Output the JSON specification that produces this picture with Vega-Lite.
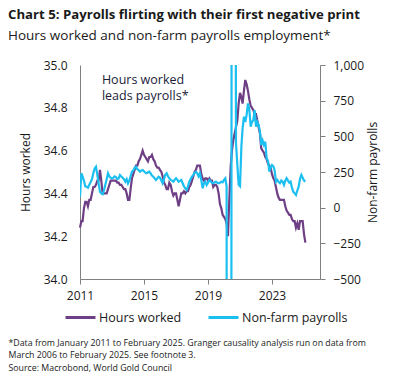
{
"$schema": "https://vega.github.io/schema/vega-lite/v6.json",
"width": 240, "height": 214,
"autosize": {"type": "none"},
"padding": {"left": 80, "top": 65, "right": 76, "bottom": 111},
"config": {"font": "Open Sans", "view": {"stroke": null},
  "axis": {"grid": false, "domainColor": "#808080", "tickColor": "#808080", "labelColor": "#1a1a1a", "titleColor": "#1a1a1a", "labelFontSize": 12, "titleFontSize": 12, "titleFontWeight": "normal"},
  "legend": {"labelColor": "#1a1a1a"}},
"title": {"text": "Chart 5: Payrolls flirting with their first negative print", "subtitle": "Hours worked and non-farm payrolls employment*", "anchor": "start", "frame": "group", "dx": -72, "fontSize": 13.2, "subtitleFontSize": 13.5, "fontWeight": "bold", "color": "#1a1a1a", "subtitleColor": "#1a1a1a", "subtitlePadding": 6, "offset": 16},
"data": {"values": [
{"d":"2011-01-01","h":34.24,"p":77},{"d":"2011-02-01","h":34.27,"p":241},{"d":"2011-03-01","h":34.27,"p":220},{"d":"2011-04-01","h":34.33,"p":190},{"d":"2011-05-01","h":34.36,"p":150},{"d":"2011-06-01","h":34.36,"p":147},{"d":"2011-07-01","h":34.34,"p":140},{"d":"2011-08-01","h":34.37,"p":160},{"d":"2011-09-01","h":34.37,"p":180},{"d":"2011-10-01","h":34.40,"p":200},{"d":"2011-11-01","h":34.43,"p":241},{"d":"2011-12-01","h":34.43,"p":275},
{"d":"2012-01-01","h":34.44,"p":287},{"d":"2012-02-01","h":34.46,"p":230},{"d":"2012-03-01","h":34.46,"p":170},{"d":"2012-04-01","h":34.51,"p":112},{"d":"2012-05-01","h":34.46,"p":100},{"d":"2012-06-01","h":34.40,"p":95},{"d":"2012-07-01","h":34.40,"p":120},{"d":"2012-08-01","h":34.40,"p":160},{"d":"2012-09-01","h":34.40,"p":200},{"d":"2012-10-01","h":34.42,"p":241},{"d":"2012-11-01","h":34.44,"p":220},{"d":"2012-12-01","h":34.46,"p":210},
{"d":"2013-01-01","h":34.46,"p":205},{"d":"2013-02-01","h":34.46,"p":210},{"d":"2013-03-01","h":34.46,"p":220},{"d":"2013-04-01","h":34.46,"p":215},{"d":"2013-05-01","h":34.45,"p":200},{"d":"2013-06-01","h":34.45,"p":205},{"d":"2013-07-01","h":34.44,"p":229},{"d":"2013-08-01","h":34.44,"p":218},{"d":"2013-09-01","h":34.43,"p":210},{"d":"2013-10-01","h":34.42,"p":200},{"d":"2013-11-01","h":34.42,"p":182},{"d":"2013-12-01","h":34.40,"p":200},
{"d":"2014-01-01","h":34.37,"p":170},{"d":"2014-02-01","h":34.37,"p":190},{"d":"2014-03-01","h":34.42,"p":220},{"d":"2014-04-01","h":34.47,"p":252},{"d":"2014-05-01","h":34.49,"p":260},{"d":"2014-06-01","h":34.51,"p":280},{"d":"2014-07-01","h":34.53,"p":287},{"d":"2014-08-01","h":34.53,"p":270},{"d":"2014-09-01","h":34.55,"p":264},{"d":"2014-10-01","h":34.56,"p":252},{"d":"2014-11-01","h":34.58,"p":260},{"d":"2014-12-01","h":34.60,"p":264},
{"d":"2015-01-01","h":34.58,"p":255},{"d":"2015-02-01","h":34.57,"p":245},{"d":"2015-03-01","h":34.56,"p":241},{"d":"2015-04-01","h":34.55,"p":248},{"d":"2015-05-01","h":34.57,"p":252},{"d":"2015-06-01","h":34.57,"p":240},{"d":"2015-07-01","h":34.58,"p":225},{"d":"2015-08-01","h":34.56,"p":217},{"d":"2015-09-01","h":34.55,"p":205},{"d":"2015-10-01","h":34.53,"p":194},{"d":"2015-11-01","h":34.52,"p":205},{"d":"2015-12-01","h":34.52,"p":217},
{"d":"2016-01-01","h":34.51,"p":210},{"d":"2016-02-01","h":34.50,"p":190},{"d":"2016-03-01","h":34.48,"p":171},{"d":"2016-04-01","h":34.45,"p":200},{"d":"2016-05-01","h":34.44,"p":230},{"d":"2016-06-01","h":34.42,"p":241},{"d":"2016-07-01","h":34.42,"p":220},{"d":"2016-08-01","h":34.45,"p":206},{"d":"2016-09-01","h":34.44,"p":195},{"d":"2016-10-01","h":34.41,"p":190},{"d":"2016-11-01","h":34.39,"p":182},{"d":"2016-12-01","h":34.40,"p":195},
{"d":"2017-01-01","h":34.40,"p":206},{"d":"2017-02-01","h":34.37,"p":195},{"d":"2017-03-01","h":34.34,"p":182},{"d":"2017-04-01","h":34.37,"p":188},{"d":"2017-05-01","h":34.40,"p":194},{"d":"2017-06-01","h":34.40,"p":171},{"d":"2017-07-01","h":34.41,"p":150},{"d":"2017-08-01","h":34.40,"p":135},{"d":"2017-09-01","h":34.41,"p":124},{"d":"2017-10-01","h":34.41,"p":150},{"d":"2017-11-01","h":34.43,"p":182},{"d":"2017-12-01","h":34.44,"p":200},
{"d":"2018-01-01","h":34.46,"p":217},{"d":"2018-02-01","h":34.48,"p":230},{"d":"2018-03-01","h":34.50,"p":245},{"d":"2018-04-01","h":34.51,"p":252},{"d":"2018-05-01","h":34.53,"p":240},{"d":"2018-06-01","h":34.53,"p":220},{"d":"2018-07-01","h":34.53,"p":241},{"d":"2018-08-01","h":34.49,"p":194},{"d":"2018-09-01","h":34.47,"p":136},{"d":"2018-10-01","h":34.46,"p":170},{"d":"2018-11-01","h":34.47,"p":182},{"d":"2018-12-01","h":34.47,"p":159},
{"d":"2019-01-01","h":34.46,"p":175},{"d":"2019-02-01","h":34.47,"p":194},{"d":"2019-03-01","h":34.46,"p":185},{"d":"2019-04-01","h":34.46,"p":175},{"d":"2019-05-01","h":34.43,"p":171},{"d":"2019-06-01","h":34.44,"p":178},{"d":"2019-07-01","h":34.44,"p":182},{"d":"2019-08-01","h":34.43,"p":175},{"d":"2019-09-01","h":34.40,"p":171},{"d":"2019-10-01","h":34.35,"p":175},{"d":"2019-11-01","h":34.33,"p":182},{"d":"2019-12-01","h":34.30,"p":178},
{"d":"2020-01-01","h":34.29,"p":195},{"d":"2020-02-01","h":34.28,"p":206},{"d":"2020-03-01","h":34.26,"p":150},{"d":"2020-04-01","h":34.20,"p":-20000},{"d":"2020-05-01","h":34.37,"p":-20000},{"d":"2020-06-01","h":34.52,"p":-8000},{"d":"2020-07-01","h":34.60,"p":5000},{"d":"2020-08-01","h":34.65,"p":5000},{"d":"2020-09-01","h":34.68,"p":5000},{"d":"2020-10-01","h":34.71,"p":450},{"d":"2020-11-01","h":34.74,"p":300},{"d":"2020-12-01","h":34.82,"p":160},
{"d":"2021-01-01","h":34.87,"p":150},{"d":"2021-02-01","h":34.85,"p":427},{"d":"2021-03-01","h":34.82,"p":556},{"d":"2021-04-01","h":34.88,"p":638},{"d":"2021-05-01","h":34.93,"p":600},{"d":"2021-06-01","h":34.91,"p":650},{"d":"2021-07-01","h":34.88,"p":731},{"d":"2021-08-01","h":34.84,"p":690},{"d":"2021-09-01","h":34.81,"p":568},{"d":"2021-10-01","h":34.80,"p":600},{"d":"2021-11-01","h":34.79,"p":614},{"d":"2021-12-01","h":34.77,"p":684},
{"d":"2022-01-01","h":34.77,"p":568},{"d":"2022-02-01","h":34.74,"p":600},{"d":"2022-03-01","h":34.71,"p":580},{"d":"2022-04-01","h":34.68,"p":533},{"d":"2022-05-01","h":34.61,"p":439},{"d":"2022-06-01","h":34.60,"p":470},{"d":"2022-07-01","h":34.59,"p":440},{"d":"2022-08-01","h":34.57,"p":462},{"d":"2022-09-01","h":34.56,"p":346},{"d":"2022-10-01","h":34.54,"p":330},{"d":"2022-11-01","h":34.53,"p":252},{"d":"2022-12-01","h":34.52,"p":280},
{"d":"2023-01-01","h":34.49,"p":299},{"d":"2023-02-01","h":34.47,"p":290},{"d":"2023-03-01","h":34.46,"p":264},{"d":"2023-04-01","h":34.43,"p":182},{"d":"2023-05-01","h":34.40,"p":194},{"d":"2023-06-01","h":34.38,"p":180},{"d":"2023-07-01","h":34.37,"p":171},{"d":"2023-08-01","h":34.37,"p":190},{"d":"2023-09-01","h":34.37,"p":182},{"d":"2023-10-01","h":34.37,"p":159},{"d":"2023-11-01","h":34.34,"p":190},{"d":"2023-12-01","h":34.32,"p":206},
{"d":"2024-01-01","h":34.31,"p":190},{"d":"2024-02-01","h":34.30,"p":175},{"d":"2024-03-01","h":34.30,"p":182},{"d":"2024-04-01","h":34.28,"p":140},{"d":"2024-05-01","h":34.27,"p":112},{"d":"2024-06-01","h":34.27,"p":100},{"d":"2024-07-01","h":34.24,"p":89},{"d":"2024-08-01","h":34.26,"p":120},{"d":"2024-09-01","h":34.23,"p":147},{"d":"2024-10-01","h":34.27,"p":200},{"d":"2024-11-01","h":34.27,"p":229},{"d":"2024-12-01","h":34.27,"p":210},
{"d":"2025-01-01","h":34.21,"p":190},{"d":"2025-02-01","h":34.17,"p":182}
]},
"encoding": {
  "x": {"field": "d", "type": "temporal",
    "scale": {"domain": [{"year": 2011, "month": 1, "date": 1}, {"year": 2026, "month": 1, "date": 1}]},
    "axis": {"values": [{"year": 2011, "month": 1, "date": 1}, {"year": 2015, "month": 1, "date": 1}, {"year": 2019, "month": 1, "date": 1}, {"year": 2023, "month": 1, "date": 1}],
      "format": "%Y", "tickSize": 5, "labelPadding": 6, "labelFontSize": 12, "labelFlush": false,
      "title": ["*Data from January 2011 to February 2025. Granger causality analysis run on data from", "March 2006 to February 2025. See footnote 3.", "Source: Macrobond, World Gold Council"],
      "titleFontSize": 8.8, "titleLineHeight": 12.5, "titleAnchor": "start", "titleAlign": "left", "titleBaseline": "top", "titleX": -72, "titleY": 59}}
},
"layer": [
  {"mark": {"type": "line", "strokeWidth": 2.2},
   "encoding": {
     "y": {"field": "h", "type": "quantitative", "scale": {"domain": [34, 35], "zero": false},
       "axis": {"values": [34, 34.2, 34.4, 34.6, 34.8, 35], "format": ".1f", "ticks": false, "labelPadding": 13, "title": "Hours worked", "titleAngle": -90, "titleX": -55, "titleY": 107, "titleAlign": "center", "titleBaseline": "middle"}},
     "color": {"datum": "Hours worked", "scale": {"domain": ["Hours worked", "Non-farm payrolls"], "range": ["#6E3F85", "#1BBFF0"]},
       "legend": {"orient": "none", "legendX": -16, "legendY": 236, "direction": "horizontal", "symbolType": "stroke", "symbolStrokeWidth": 3, "symbolSize": 900, "labelFontSize": 12.5, "title": null, "columnPadding": 20, "labelOffset": 2}}
   }},
  {"mark": {"type": "line", "strokeWidth": 2.2, "clip": true},
   "encoding": {
     "y": {"field": "p", "type": "quantitative", "scale": {"domain": [-500, 1000]},
       "axis": {"orient": "right", "values": [-500, -250, 0, 250, 500, 750, 1000], "format": ",.0f", "tickSize": 5, "labelPadding": 8, "title": "Non-farm payrolls", "titleAngle": -90, "titleX": 52, "titleY": 107, "titleAlign": "center", "titleBaseline": "middle"}},
     "color": {"datum": "Non-farm payrolls"}
   }},
  {"data": {"values": [{"d": "2012-05-15", "h": 34.96, "t": "Hours worked\nleads payrolls*"}]},
   "mark": {"type": "text", "align": "left", "baseline": "top", "fontSize": 12.5, "lineBreak": "\n", "lineHeight": 16, "color": "#1b1b3a"},
   "encoding": {
     "y": {"field": "h", "type": "quantitative", "scale": {"domain": [34, 35]}, "axis": null},
     "text": {"field": "t"}
   }}
],
"resolve": {"scale": {"y": "independent"}}
}
